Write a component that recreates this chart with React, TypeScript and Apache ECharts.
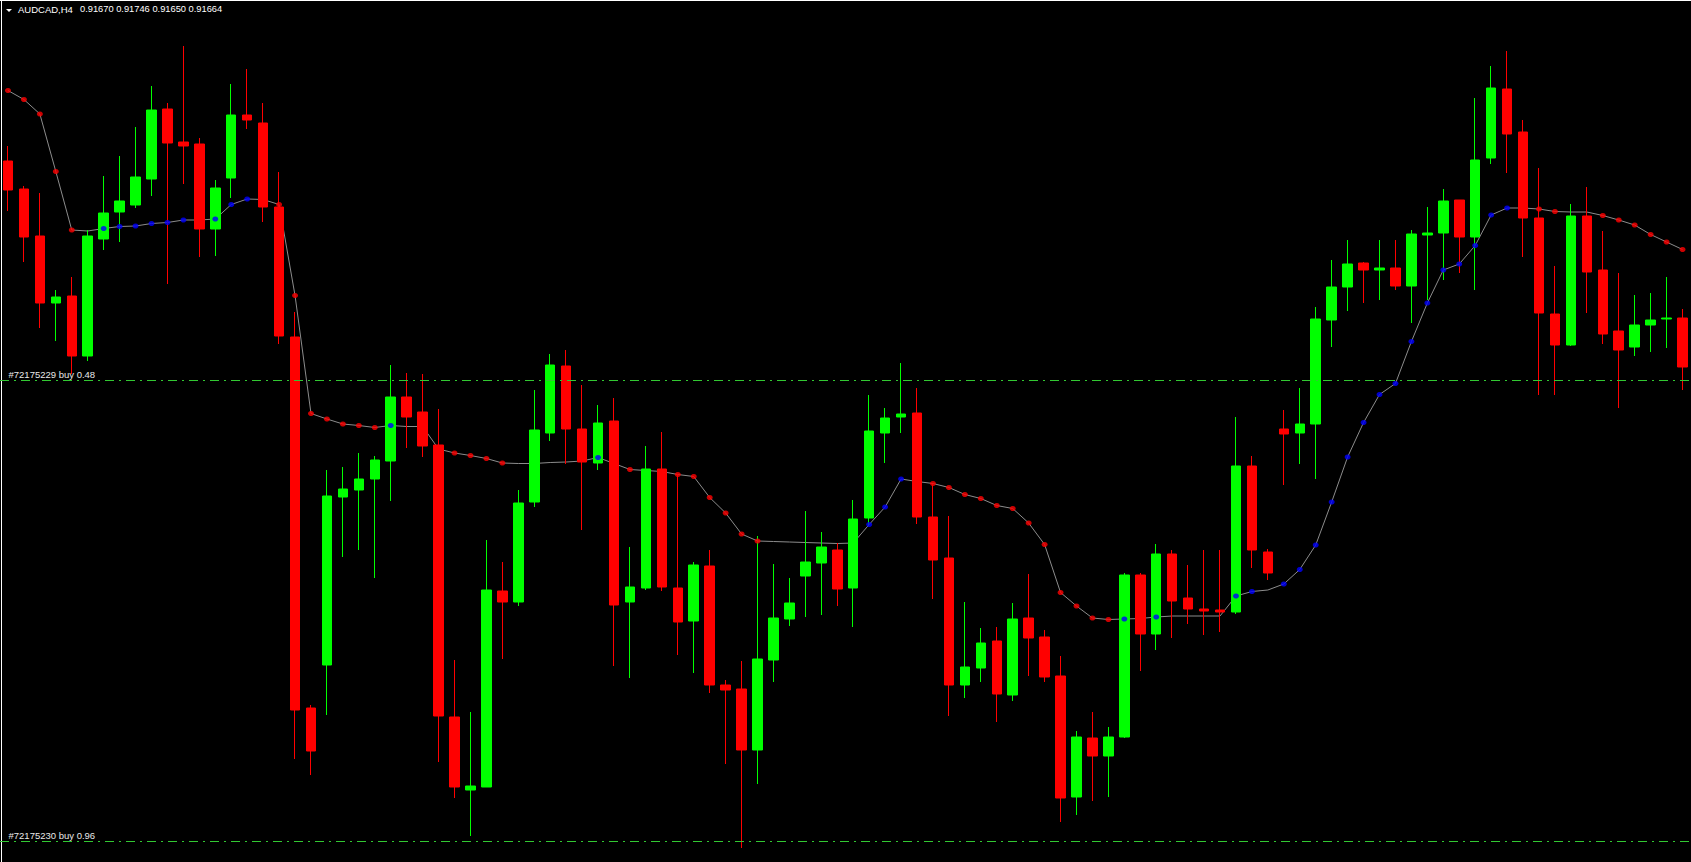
import React, { useEffect, useRef } from "react";
import * as echarts from "echarts";

const W = 1691;
const H = 862;

const symbolName = "AUDCAD,H4";
const headerValues = ["0.91670", "0.91746", "0.91650", "0.91664"];

const opens = [
  0.91984, 0.91928, 0.91834, 0.917, 0.91714, 0.91594, 0.91828, 0.91882, 0.91896, 0.91948,
  0.92088, 0.92022, 0.92018, 0.91848, 0.9195, 0.92076, 0.9206, 0.91892, 0.91632, 0.9089,
  0.90976, 0.91312, 0.91326, 0.91348, 0.91384, 0.91512, 0.91482, 0.91416, 0.90872, 0.90726,
  0.90732, 0.91124, 0.91102, 0.91302, 0.9144, 0.91574, 0.91448, 0.9138, 0.91464, 0.91102,
  0.9113, 0.91368, 0.9113, 0.91064, 0.91174, 0.90936, 0.90928, 0.90806, 0.90986, 0.91068,
  0.91154, 0.9118, 0.91206, 0.9113, 0.9127, 0.9144, 0.91472, 0.9148, 0.91272, 0.9119,
  0.90936, 0.9097, 0.91024, 0.90916, 0.9107, 0.91032, 0.90954, 0.90712, 0.9083, 0.90794,
  0.90832, 0.91156, 0.91038, 0.91198, 0.9111, 0.91088, 0.91086, 0.91082, 0.91374, 0.91202,
  0.91448, 0.9144, 0.91458, 0.91666, 0.91732, 0.9178, 0.91766, 0.9177, 0.91734, 0.91836,
  0.9184, 0.91906, 0.91832, 0.9199, 0.92128, 0.92042, 0.9187, 0.91678, 0.91616, 0.91874,
  0.91766, 0.91644, 0.91612, 0.91656, 0.91668, 0.9167,
];

const closes = [
  0.91926, 0.91832, 0.917, 0.91712, 0.91594, 0.91834, 0.9188, 0.91904, 0.91952, 0.92086,
  0.9202, 0.92014, 0.91848, 0.9193, 0.92076, 0.92066, 0.91892, 0.91634, 0.90886, 0.90804,
  0.91314, 0.91328, 0.91348, 0.91386, 0.91512, 0.91472, 0.91414, 0.90874, 0.90732, 0.90734,
  0.91126, 0.91102, 0.913, 0.91446, 0.91576, 0.91448, 0.91382, 0.9146, 0.91096, 0.91132,
  0.91368, 0.91132, 0.91062, 0.91176, 0.90936, 0.90926, 0.90806, 0.90988, 0.9107, 0.911,
  0.91182, 0.91212, 0.91128, 0.91268, 0.91444, 0.9147, 0.91478, 0.91272, 0.91186, 0.90936,
  0.90972, 0.9102, 0.90918, 0.91068, 0.9103, 0.90952, 0.9071, 0.90832, 0.90794, 0.90832,
  0.91156, 0.91038, 0.91198, 0.91104, 0.91088, 0.91084, 0.91082, 0.91374, 0.91206, 0.9116,
  0.91438, 0.91458, 0.91668, 0.91732, 0.91778, 0.91766, 0.9177, 0.91734, 0.91838, 0.9184,
  0.91904, 0.91832, 0.91986, 0.9213, 0.92038, 0.9187, 0.9168, 0.91616, 0.91874, 0.91762,
  0.91638, 0.91606, 0.91656, 0.91666, 0.9167, 0.91572,
];

const lows = [
  0.91884, 0.91782, 0.9165, 0.91624, 0.91558, 0.91584, 0.91806, 0.91822, 0.9189, 0.91914,
  0.91738, 0.91938, 0.91792, 0.91794, 0.9191, 0.92048, 0.91862, 0.91618, 0.90788, 0.90756,
  0.90876, 0.91192, 0.91206, 0.9115, 0.91304, 0.9141, 0.91392, 0.90782, 0.9071, 0.90634,
  0.90732, 0.90988, 0.91094, 0.91292, 0.91424, 0.91378, 0.91246, 0.91366, 0.90974, 0.9095,
  0.91126, 0.91124, 0.90996, 0.9096, 0.9092, 0.90778, 0.9061, 0.90738, 0.90942, 0.91054,
  0.91072, 0.91076, 0.91094, 0.91052, 0.91256, 0.9138, 0.9144, 0.91258, 0.91108, 0.90874,
  0.9091, 0.90942, 0.90862, 0.90904, 0.90954, 0.90942, 0.90662, 0.90676, 0.90704, 0.90712,
  0.9083, 0.90964, 0.91006, 0.9103, 0.91058, 0.91036, 0.91042, 0.91078, 0.9117, 0.91146,
  0.91336, 0.91378, 0.91348, 0.91612, 0.91684, 0.917, 0.91706, 0.91726, 0.9166, 0.91706,
  0.91746, 0.9176, 0.91726, 0.91978, 0.9196, 0.91792, 0.91516, 0.91516, 0.91614, 0.9168,
  0.91618, 0.9149, 0.91594, 0.91602, 0.9161, 0.91526,
];

const highs = [
  0.92014, 0.91934, 0.9192, 0.91726, 0.91752, 0.91846, 0.91954, 0.91994, 0.92052, 0.92134,
  0.921, 0.92214, 0.9203, 0.91946, 0.92138, 0.92168, 0.921, 0.91962, 0.91682, 0.90896,
  0.91366, 0.91372, 0.914, 0.91394, 0.91576, 0.9156, 0.91558, 0.91488, 0.90986, 0.90882,
  0.91226, 0.91182, 0.91326, 0.91526, 0.91598, 0.91606, 0.91536, 0.91496, 0.9151, 0.91212,
  0.91414, 0.91442, 0.91358, 0.91182, 0.91206, 0.90946, 0.90984, 0.91234, 0.91178, 0.9115,
  0.91284, 0.91242, 0.9122, 0.91306, 0.91516, 0.9149, 0.9158, 0.9153, 0.91338, 0.91274,
  0.91102, 0.9105, 0.91052, 0.911, 0.91158, 0.91046, 0.90994, 0.90844, 0.90882, 0.90852,
  0.9116, 0.9116, 0.91218, 0.91206, 0.91176, 0.91206, 0.91206, 0.91472, 0.91394, 0.91208,
  0.91486, 0.9153, 0.91692, 0.91786, 0.91826, 0.91782, 0.91826, 0.91826, 0.91846, 0.91892,
  0.91928, 0.91906, 0.9211, 0.92174, 0.92204, 0.92066, 0.9197, 0.91774, 0.91898, 0.91932,
  0.91844, 0.9176, 0.91716, 0.9172, 0.91752, 0.91688,
];

const trend = [
  0.92125, 0.92107, 0.92078, 0.91963, 0.91846, 0.91844, 0.91849, 0.91853, 0.91854, 0.91859,
  0.91861, 0.91866, 0.91866, 0.91868, 0.91897, 0.91908, 0.91907, 0.91897, 0.91715, 0.91479,
  0.91468, 0.91458, 0.91455, 0.91451, 0.91455, 0.91453, 0.91453, 0.91408, 0.914, 0.91395,
  0.91389, 0.9138, 0.91379, 0.91379, 0.91381, 0.91382, 0.91384, 0.91391, 0.91379, 0.91367,
  0.91365, 0.91363, 0.91357, 0.91353, 0.91311, 0.9128, 0.91238, 0.91224, 0.91223, 0.91222,
  0.91221, 0.9122, 0.91219, 0.9122, 0.91257, 0.91292, 0.91348, 0.91343, 0.91339, 0.91331,
  0.91317, 0.91309, 0.91295, 0.91289, 0.9126, 0.91217, 0.91121, 0.91094, 0.9107, 0.91067,
  0.91068, 0.91069, 0.91072, 0.91074, 0.91074, 0.91074, 0.91074, 0.91114, 0.91123, 0.91126,
  0.91138, 0.91167, 0.91216, 0.91302, 0.91392, 0.91461, 0.91517, 0.91539, 0.91623, 0.917,
  0.91766, 0.91778, 0.91815, 0.91876, 0.9189, 0.9189, 0.91888, 0.91883, 0.91882, 0.91882,
  0.91875, 0.91866, 0.91856, 0.91837, 0.91822, 0.91807,
];

// r = red dot, b = blue dot, . = no dot
const dotCodes = (
  "rrrrr.bbbb" + "bb.bbb.rrr" + "rrrrb...rr" + "rr.....b.r" + "..rrrrrr.." +
  "....bbb.rr" + "rrrrrrrrrr" + "b.b....bb." + "bbbbbbbbbb" + "bbbbb.rr.." + "rrrrrr"
).split("");

const orderPrices = [0.91546, 0.90624];
const orderLabels = ["#72175229 buy 0.48", "#72175230 buy 0.96"];

const priceMin = 0.90582;
const priceMax = 0.92306;

const UP = "#00ff00";
const DOWN = "#ff0000";
const FONT = '"Liberation Sans", Arial, sans-serif';

export default function App() {
  const ref = useRef<HTMLDivElement>(null);

  useEffect(() => {
    document.body.style.margin = "0";
    document.body.style.background = "#000";
    const chart = echarts.init(ref.current!, null, { renderer: "svg", width: W, height: H });
    const categories = opens.map((_, i) => String(i + 1));
    const candleData = opens.map((o, i) => [o, closes[i], lows[i], highs[i]]);
    const dotData = dotCodes.map((c, i) =>
      c === "."
        ? "-"
        : { value: trend[i], itemStyle: { color: c === "r" ? "#ff0000" : "#0000ff" } }
    );

    chart.setOption({
      animation: false,
      backgroundColor: "#000000",
      grid: { left: -5.5, right: 0.5, top: 0, bottom: 0, containLabel: false },
      xAxis: { type: "category", data: categories, boundaryGap: true, show: false },
      yAxis: { type: "value", min: priceMin, max: priceMax, scale: true, show: false },
      series: [
        {
          type: "line",
          data: trend,
          z: 1,
          showSymbol: false,
          symbol: "none",
          lineStyle: { color: "#8c8c8c", width: 1 },
          silent: true,
        },
        {
          type: "candlestick",
          data: candleData,
          z: 2,
          barWidth: 10,
          itemStyle: {
            color: UP,
            color0: DOWN,
            borderColor: UP,
            borderColor0: DOWN,
            borderWidth: 1,
          },
          markLine: {
            symbol: ["none", "none"],
            silent: true,
            animation: false,
            precision: 5,
            lineStyle: { color: "#32c832", width: 1, type: [9, 5, 2, 5] },
            label: {
              show: true,
              position: "insideStartTop",
              color: "#e8e8e8",
              fontSize: 9.5,
              fontFamily: FONT,
              distance: [8.5, 1],
            },
            data: orderPrices.map((p, i) => ({
              yAxis: p,
              label: { formatter: orderLabels[i] },
            })),
          },
        },
        {
          type: "scatter",
          data: dotData,
          z: 3,
          symbol: "circle",
          symbolSize: [6, 5],
          silent: true,
        },
      ],
      graphic: [
        { type: "rect", shape: { x: 0, y: 0, width: W, height: 1 }, style: { fill: "#ffffff" } },
        { type: "rect", shape: { x: 1, y: 0, width: 1, height: H }, style: { fill: "#ffffff" } },
        {
          type: "polygon",
          shape: { points: [[6, 9], [12, 9], [9, 12]] },
          style: { fill: "#ffffff" },
        },
        {
          type: "text",
          x: 18,
          y: 4,
          style: { text: symbolName, fill: "#ffffff", font: `9.5px ${FONT}`, verticalAlign: "top" },
        },
        {
          type: "text",
          x: 80,
          y: 4,
          style: {
            text: headerValues.join(" "),
            fill: "#ffffff",
            font: `9.3px ${FONT}`,
            verticalAlign: "top",
          },
        },
      ],
    });

    return () => chart.dispose();
  }, []);

  return (
    <div
      ref={ref}
      style={{ width: W, height: H, position: "absolute", left: 0, top: 0 }}
    />
  );
}
